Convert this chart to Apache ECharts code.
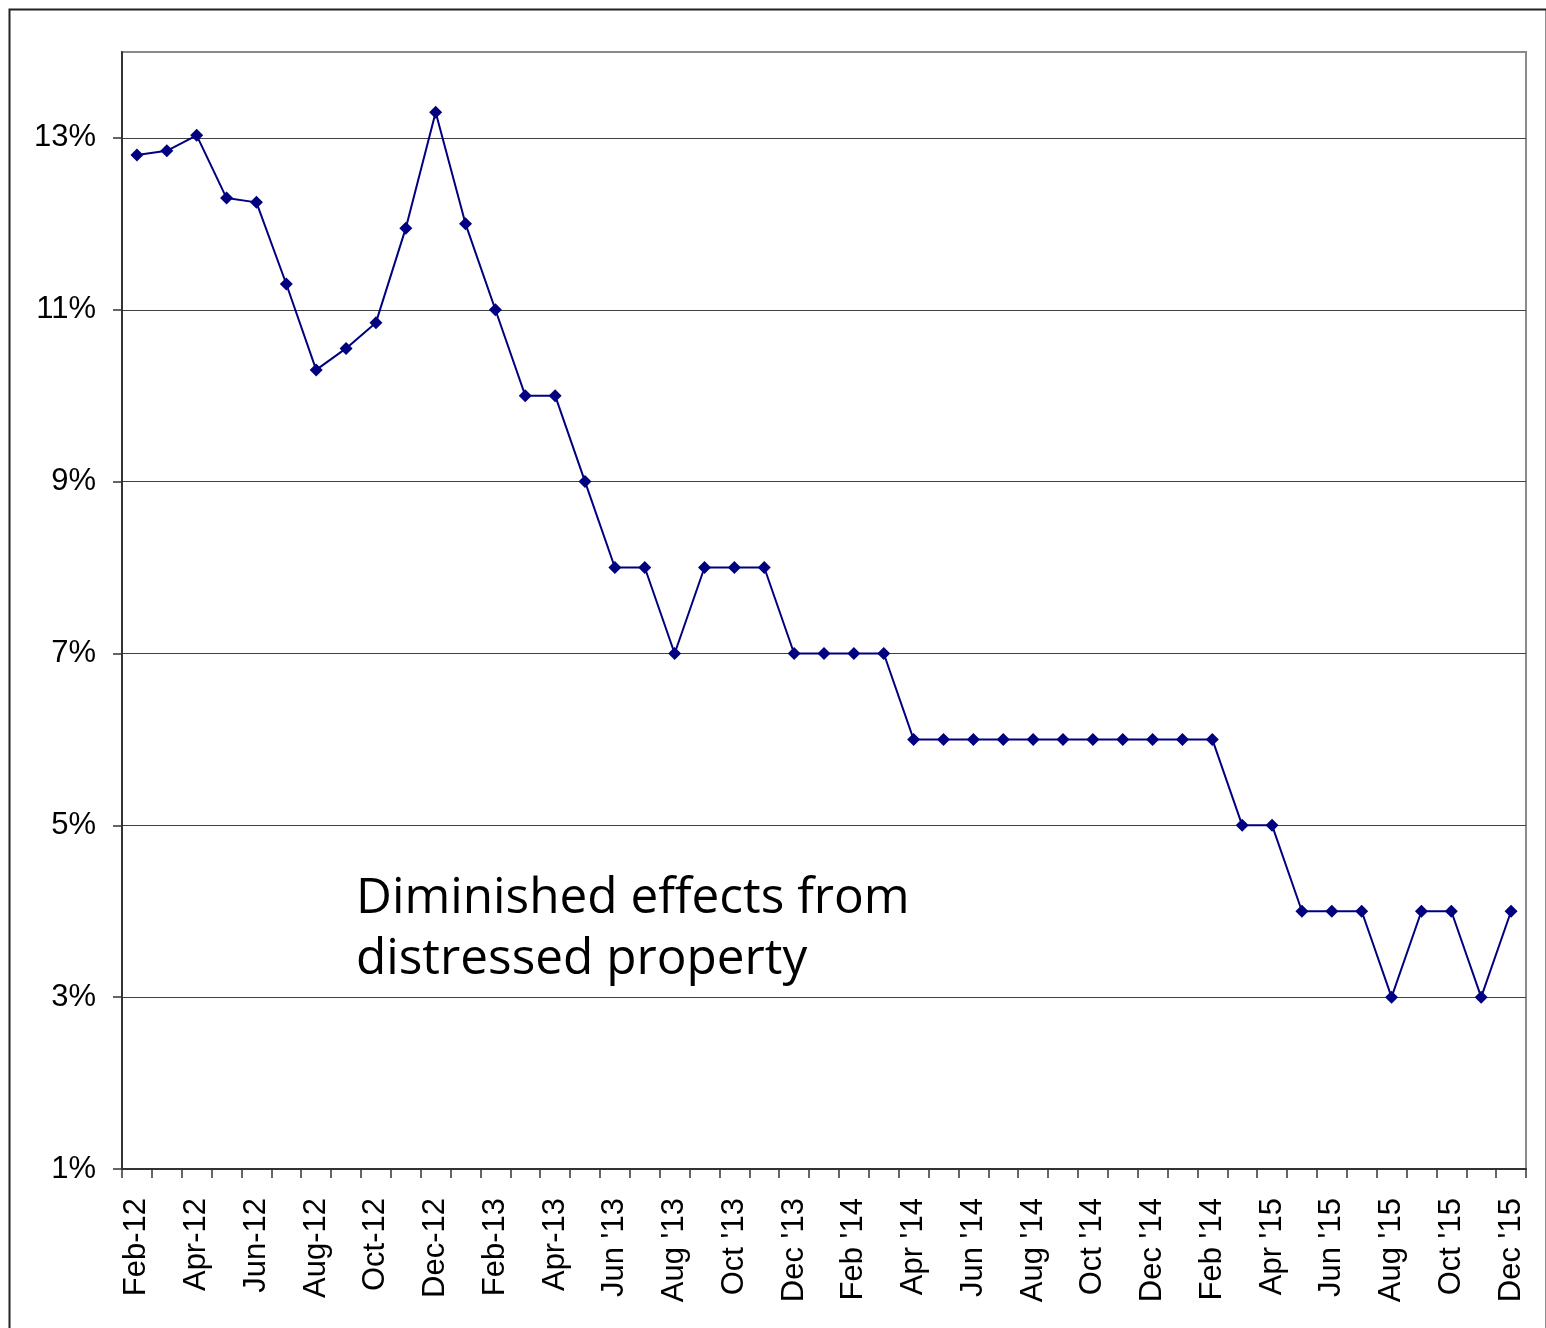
<!DOCTYPE html>
<html>
<head>
<meta charset="utf-8">
<script src="https://cdn.jsdelivr.net/npm/echarts@6/dist/echarts.min.js"></script>
<style>
  html, body { margin: 0; padding: 0; background: #fff; }
  #chart { width: 1546px; height: 1328px; }
</style>
</head>
<body>
<div id="chart"></div>
<script>
// Monthly share of sales, Feb 2012 – Dec 2015
const months = [
  'Feb-12', 'Mar-12', 'Apr-12', 'May-12', 'Jun-12', 'Jul-12', 'Aug-12', 'Sep-12',
  'Oct-12', 'Nov-12', 'Dec-12', 'Jan-13', 'Feb-13', 'Mar-13', 'Apr-13', 'May-13',
  "Jun '13", "Jul '13", "Aug '13", "Sep '13", "Oct '13", "Nov '13", "Dec '13", "Jan '14",
  "Feb '14", "Mar '14", "Apr '14", "May '14", "Jun '14", "Jul '14", "Aug '14", "Sep '14",
  "Oct '14", "Nov '14", "Dec '14", "Jan '15", "Feb '14", "Mar '15", "Apr '15", "May '15",
  "Jun '15", "Jul '15", "Aug '15", "Sep '15", "Oct '15", "Nov '15", "Dec '15"
];

const sharePct = [
  12.8, 12.85, 13.03, 12.3, 12.25, 11.3, 10.3, 10.55,
  10.85, 11.95, 13.3, 12.0, 11, 10, 10, 9,
  8, 8, 7, 8, 8, 8, 7, 7,
  7, 7, 6, 6, 6, 6, 6, 6,
  6, 6, 6, 6, 6, 5, 5, 4,
  4, 4, 3, 4, 4, 3, 4
];

const yTicks = [1, 3, 5, 7, 9, 11, 13];

const note = 'Diminished effects from\ndistressed property';

const chart = echarts.init(document.getElementById('chart'), null, { renderer: 'canvas' });

chart.setOption({
  animation: false,
  backgroundColor: '#ffffff',
  grid: {
    left: 122, right: 20, top: 52, bottom: 159,
    show: true,
    borderColor: '#8a8a8a',
    borderWidth: 2,
    backgroundColor: 'transparent'
  },
  xAxis: {
    type: 'category',
    data: months,
    boundaryGap: true,
    axisLine: { show: true, lineStyle: { color: '#333333', width: 2 } },
    axisTick: { show: true, interval: 0, length: 9, lineStyle: { color: '#333333', width: 1.5 } },
    axisLabel: {
      interval: 1,
      rotate: 90,
      margin: 29,
      color: '#000000',
      fontFamily: 'Liberation Sans',
      fontSize: 31
    },
    splitLine: { show: false }
  },
  yAxis: {
    type: 'value',
    min: 1,
    max: 14,
    axisLine: { show: true, lineStyle: { color: '#333333', width: 2 } },
    axisTick: { show: true, customValues: yTicks, length: 9, lineStyle: { color: '#333333', width: 1.5 } },
    axisLabel: {
      customValues: yTicks,
      margin: 26,
      color: '#000000',
      fontFamily: 'Liberation Sans',
      fontSize: 31,
      formatter: v => v + '%'
    },
    splitLine: { show: true, lineStyle: { color: '#404040', width: 1 } }
  },
  series: [{
    type: 'line',
    data: sharePct,
    symbol: 'diamond',
    symbolSize: 13,
    showSymbol: true,
    lineStyle: { color: '#000080', width: 2 },
    itemStyle: { color: '#000080' },
    z: 5
  }],
  graphic: [
    {
      type: 'rect',
      left: 7, top: 7,
      shape: { width: 1537, height: 1340 },
      style: { fill: 'none', stroke: '#222222', lineWidth: 2 },
      silent: true
    },
    {
      type: 'text',
      left: 356, top: 868,
      style: {
        text: note,
        fill: '#000000',
        font: '49.5px "Open Sans"',
        lineHeight: 61
      }
    }
  ]
});
</script>
</body>
</html>
